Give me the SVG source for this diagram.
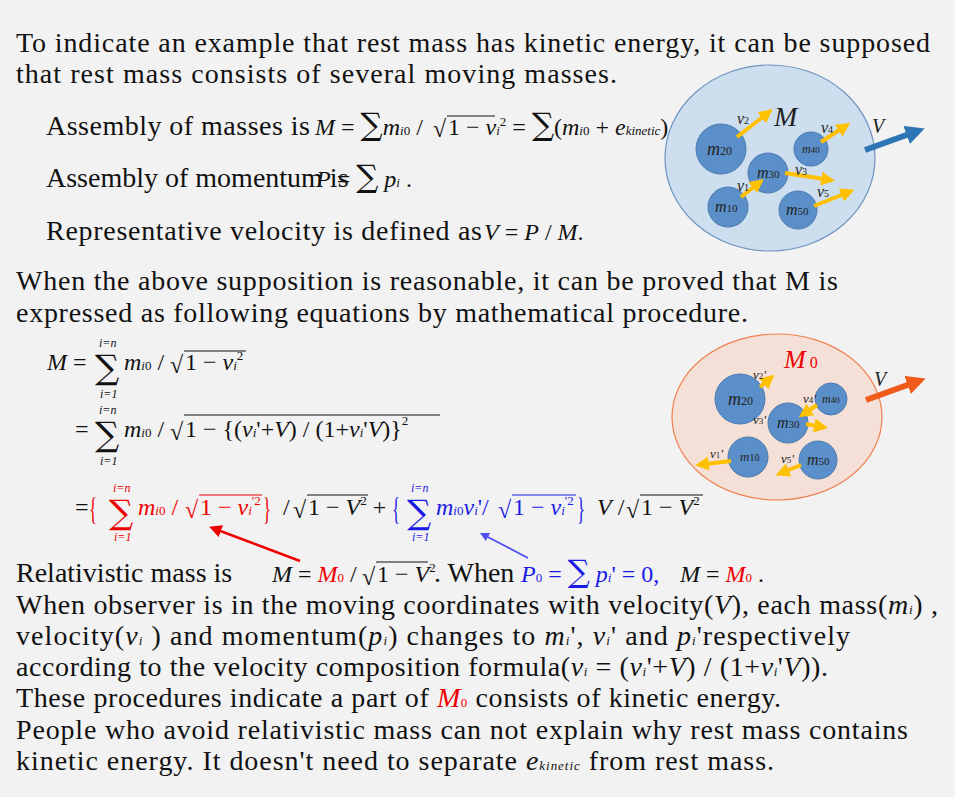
<svg xmlns="http://www.w3.org/2000/svg" width="960" height="802" viewBox="0 0 960 802">
<defs>
<style>
.t{font-family:"Liberation Serif",serif;font-size:28px;fill:#111}
.m{font-family:"Liberation Serif",serif;font-size:24px;fill:#111}
.i{font-style:italic}
.s{font-size:13px}
.sm{font-family:"Liberation Serif",serif;font-size:12px;font-style:italic;fill:#111}
.big{font-family:"DejaVu Serif",serif;font-size:31px;font-style:normal}
.eqs{font-family:"DejaVu Serif",serif;font-size:34px;font-style:normal}
.r{fill:#e00}
.b{fill:#1a1ae6}
.ov{stroke:#111;stroke-width:1.2}
.ball{fill:#5b8fc9;stroke:#4a7ab0;stroke-width:1}
.bl{font-family:"Liberation Serif",serif;font-style:italic;font-size:16px;fill:#222}
.ya{stroke:#ffc000;stroke-width:4;fill:none;marker-end:url(#ya)}
</style>
<marker id="ya" viewBox="0 0 10 10" refX="2" refY="5" markerWidth="3.5" markerHeight="3.5" orient="auto" markerUnits="strokeWidth"><path d="M0,0L10,5L0,10z" fill="#ffc000"/></marker>
<marker id="bb" viewBox="0 0 10 10" refX="3" refY="5" markerWidth="3.2" markerHeight="3.2" orient="auto"><path d="M0,0L10,5L0,10z" fill="#2e75b6"/></marker>
<marker id="ob" viewBox="0 0 10 10" refX="3" refY="5" markerWidth="3.2" markerHeight="3.2" orient="auto"><path d="M0,0L10,5L0,10z" fill="#f05a1a"/></marker>
<marker id="ra" viewBox="0 0 10 10" refX="5" refY="5" markerWidth="5" markerHeight="5" orient="auto"><path d="M0,0L10,5L0,10z" fill="#e00"/></marker>
<marker id="ba" viewBox="0 0 10 10" refX="5" refY="5" markerWidth="5" markerHeight="5" orient="auto"><path d="M0,0L10,5L0,10z" fill="#5050ee"/></marker>
</defs>
<rect x="0" y="0" width="955" height="797" fill="#f2f2f2"/>

<g id="intro">
<text class="t" x="16" y="52" textLength="914">To indicate an example that rest mass has kinetic energy, it can be supposed</text>
<text class="t" x="16" y="83" textLength="601">that rest mass consists of several moving masses.</text>
<text class="t" x="46" y="135" textLength="264">Assembly of masses is</text>
<text class="m" x="315" y="135"><tspan class="i">M</tspan> = <tspan class="big">∑</tspan><tspan class="i">m</tspan><tspan class="s i">i</tspan><tspan class="s">0</tspan> / </text>
<text class="m" x="433" y="137" font-size="26">√</text><line class="ov" x1="447" y1="116" x2="495" y2="116"/>
<text class="m" x="448" y="135">1 − <tspan class="i">v</tspan><tspan class="s i">i</tspan><tspan class="s" dy="-9">2</tspan><tspan dy="9"> = </tspan><tspan class="big">∑</tspan>(<tspan class="i">m</tspan><tspan class="s i">i</tspan><tspan class="s">0</tspan> + <tspan class="i">e</tspan><tspan class="s i">kinetic</tspan>).</text>
<text class="t" x="46" y="187">Assembly of momentum is</text>
<text class="m" x="316" y="187"><tspan class="i">P</tspan> = <tspan class="big">∑</tspan> <tspan class="i">p</tspan><tspan class="s i">i</tspan> .</text>
<text class="t" x="46" y="240" textLength="436">Representative velocity is defined as</text>
<text class="m" x="484" y="240"><tspan class="i">V</tspan> = <tspan class="i">P</tspan> / <tspan class="i">M</tspan>.</text>
<text class="t" x="16" y="290" textLength="822">When the above supposition is reasonable, it can be proved that M is</text>
<text class="t" x="16" y="322" textLength="732">expressed as following equations by mathematical procedure.</text>
</g>

<g id="diagram1">
<ellipse cx="770" cy="158" rx="105" ry="93" fill="#cddeee" stroke="#6f94c0" stroke-width="1.2"/>
<circle class="ball" cx="721" cy="149" r="25"/><circle class="ball" cx="768" cy="173" r="20"/>
<circle class="ball" cx="811" cy="149" r="17"/><circle class="ball" cx="728" cy="207" r="20"/>
<circle class="ball" cx="798" cy="210" r="19"/>
<text class="bl" x="707" y="155" style="font-size:18px">m<tspan font-size="12" font-style="normal">20</tspan></text>
<text class="bl" x="757" y="178">m<tspan font-size="11" font-style="normal">30</tspan></text>
<text class="bl" x="802" y="153" style="font-size:12px">m<tspan font-size="9" font-style="normal">40</tspan></text>
<text class="bl" x="715" y="212">m<tspan font-size="11" font-style="normal">10</tspan></text>
<text class="bl" x="786" y="215">m<tspan font-size="11" font-style="normal">50</tspan></text>
<path class="ya" d="M737,137L764,116"/><path class="ya" d="M821,142L841,129"/><path class="ya" d="M785,173L824,179"/><path class="ya" d="M741,197L755,186"/><path class="ya" d="M814,206L844,194"/>
<text class="bl" x="737" y="124">v<tspan font-size="10" font-style="normal">2</tspan></text>
<text class="bl" x="821" y="133">v<tspan font-size="10" font-style="normal">4</tspan></text>
<text class="bl" x="795" y="175">v<tspan font-size="10" font-style="normal">3</tspan></text>
<text class="bl" x="737" y="191">v<tspan font-size="10" font-style="normal">1</tspan></text>
<text class="bl" x="817" y="197">v<tspan font-size="10" font-style="normal">5</tspan></text>
<text class="bl" x="774" y="126" style="font-size:28px">M</text>
<text class="bl" x="872" y="133" style="font-size:20px">V</text>
<line x1="865" y1="150" x2="912" y2="133" stroke="#2e75b6" stroke-width="6" marker-end="url(#bb)"/>
</g>

<g id="diagram2">
<ellipse cx="777" cy="417" rx="105" ry="83" fill="#f5e0d8" stroke="#f08050" stroke-width="1.2"/>
<circle class="ball" cx="740" cy="399" r="25"/><circle class="ball" cx="788" cy="423" r="20"/>
<circle class="ball" cx="831" cy="399" r="16"/><circle class="ball" cx="748" cy="457" r="20"/>
<circle class="ball" cx="818" cy="460" r="19"/>
<text class="bl" x="728" y="405" style="font-size:18px">m<tspan font-size="12" font-style="normal">20</tspan></text>
<text class="bl" x="777" y="428">m<tspan font-size="11" font-style="normal">30</tspan></text>
<text class="bl" x="822" y="403" style="font-size:12px">m<tspan font-size="9" font-style="normal">40</tspan></text>
<text class="bl" x="740" y="461" style="font-size:13px">m<tspan font-size="10" font-style="normal">10</tspan></text>
<text class="bl" x="807" y="465">m<tspan font-size="11" font-style="normal">50</tspan></text>
<path class="ya" d="M760,387L766,382"/><path class="ya" d="M817,405L808,411"/><path class="ya" d="M806,424L817,426"/><path class="ya" d="M731,461L706,464"/><path class="ya" d="M801,465L786,471"/>
<text class="bl" x="753" y="379" style="font-size:13px">v<tspan font-size="9" font-style="normal">2</tspan>'</text>
<text class="bl" x="803" y="403" style="font-size:13px">v<tspan font-size="9" font-style="normal">4</tspan>'</text>
<text class="bl" x="753" y="424" style="font-size:13px">v<tspan font-size="9" font-style="normal">3</tspan>'</text>
<text class="bl" x="710" y="458" style="font-size:13px">v<tspan font-size="9" font-style="normal">1</tspan>'</text>
<text class="bl" x="781" y="463" style="font-size:13px">v<tspan font-size="9" font-style="normal">5</tspan>'</text>
<text class="bl" x="784" y="368" style="font-size:26px;fill:#e00">M<tspan font-size="16" font-style="normal"> 0</tspan></text>
<text class="bl" x="874" y="386" style="font-size:20px">V</text>
<line x1="866" y1="400" x2="913" y2="383" stroke="#f05a1a" stroke-width="6" marker-end="url(#ob)"/>
</g>

<g id="equations">
<text class="m" x="47" y="370"><tspan class="i">M</tspan>  =</text>
<text class="m eqs" x="95" y="379">∑</text><text class="sm" x="99" y="347">i=n</text><text class="sm" x="100" y="398">i=1</text>
<text class="m" x="124" y="370"><tspan class="i">m</tspan><tspan class="s i">i</tspan><tspan class="s">0</tspan> / </text>
<text class="m" x="170" y="373" font-size="26">√</text><line class="ov" x1="184" y1="351" x2="246" y2="351"/>
<text class="m" x="185" y="370">1 − <tspan class="i">v</tspan><tspan class="s i">i</tspan><tspan class="s" dy="-10">2</tspan></text>

<text class="m" x="75" y="437">=</text>
<text class="m eqs" x="95" y="446">∑</text><text class="sm" x="99" y="414">i=n</text><text class="sm" x="100" y="465">i=1</text>
<text class="m" x="124" y="437"><tspan class="i">m</tspan><tspan class="s i">i</tspan><tspan class="s">0</tspan> / </text>
<text class="m" x="170" y="440" font-size="26">√</text><line class="ov" x1="184" y1="415" x2="440" y2="415"/>
<text class="m" x="185" y="437">1 − {(<tspan class="i">v</tspan><tspan class="s i">i</tspan>'+<tspan class="i">V</tspan>) / (1+<tspan class="i">v</tspan><tspan class="s i">i</tspan>'<tspan class="i">V</tspan>)}<tspan class="s" dy="-12">2</tspan></text>

<text class="m" x="75" y="515">=</text>
<text class="m r" x="89" y="520" font-size="44" transform="translate(89 520) scale(0.7 1.3) translate(-89 -520)">{</text>
<text class="m eqs r" x="109" y="524">∑</text><text class="sm r" x="113" y="492">i=n</text><text class="sm r" x="114" y="541">i=1</text>
<text class="m r" x="138" y="515"><tspan class="i">m</tspan><tspan class="s i">i</tspan><tspan class="s">0</tspan> / </text>
<text class="m r" x="185" y="518" font-size="26">√</text><line x1="199" y1="495" x2="262" y2="495" stroke="#e00" stroke-width="1.2"/>
<text class="m r" x="200" y="515">1 − <tspan class="i">v</tspan><tspan class="s i">i</tspan><tspan class="s" dy="-10">'2</tspan></text>
<text class="m r" x="263" y="520" font-size="44" transform="translate(263 520) scale(0.7 1.3) translate(-263 -520)">}</text>
<text class="m" x="283" y="515">/ </text>
<text class="m" x="293" y="518" font-size="26">√</text><line class="ov" x1="307" y1="495" x2="368" y2="495"/>
<text class="m" x="308" y="515">1 − <tspan class="i">V</tspan><tspan class="s" dy="-10">2</tspan><tspan dy="10">  +</tspan></text>
<text class="m b" x="392" y="520" font-size="44" transform="translate(392 520) scale(0.7 1.3) translate(-392 -520)">{</text>
<text class="m eqs b" x="407" y="524">∑</text><text class="sm b" x="411" y="492">i=n</text><text class="sm b" x="412" y="541">i=1</text>
<text class="m b" x="436" y="515"><tspan class="i">m</tspan><tspan class="s i">i</tspan><tspan class="s">0</tspan><tspan class="i">v</tspan><tspan class="s i">i</tspan>'/ </text>
<text class="m b" x="498" y="518" font-size="26">√</text><line x1="512" y1="495" x2="576" y2="495" stroke="#1a1ae6" stroke-width="1.2"/>
<text class="m b" x="513" y="515">1 − <tspan class="i">v</tspan><tspan class="s i">i</tspan><tspan class="s" dy="-10">'2</tspan></text>
<text class="m b" x="577" y="520" font-size="44" transform="translate(577 520) scale(0.7 1.3) translate(-577 -520)">}</text>
<text class="m" x="597" y="515"><tspan class="i">V</tspan> / </text>
<text class="m" x="626" y="518" font-size="26">√</text><line class="ov" x1="640" y1="495" x2="703" y2="495"/>
<text class="m" x="641" y="515">1 − <tspan class="i">V</tspan><tspan class="s" dy="-10">2</tspan></text>
</g>

<g id="connectors">
<line x1="300" y1="561" x2="215" y2="529" stroke="#e00" stroke-width="2.5" marker-end="url(#ra)"/>
<line x1="528" y1="558" x2="484" y2="535" stroke="#5050ee" stroke-width="1.8" marker-end="url(#ba)"/>
</g>

<g id="conclusion">
<text class="t" x="16" y="582">Relativistic mass is</text>
<text class="m" x="272" y="582"><tspan class="i">M</tspan> = <tspan class="i r">M</tspan><tspan class="s r">0</tspan> / </text>
<text class="m" x="362" y="585" font-size="26">√</text><line class="ov" x1="376" y1="562" x2="428" y2="562"/>
<text class="m" x="377" y="582">1 − <tspan class="i">V</tspan><tspan class="s" dy="-10">2</tspan></text>
<text class="t" x="434" y="582">. When</text>
<text class="m b" x="521" y="582"><tspan class="i">P</tspan><tspan class="s">0</tspan> = <tspan class="big">∑</tspan> <tspan class="i">p</tspan><tspan class="s i">i</tspan>' = 0,</text>
<text class="m" x="680" y="582"><tspan class="i">M</tspan> = <tspan class="i r">M</tspan><tspan class="s r">0</tspan> .</text>
<text class="t" x="16" y="614" textLength="922">When observer is in the moving coordinates with velocity(<tspan class="i">V</tspan>), each mass(<tspan class="i">m</tspan><tspan class="s i">i</tspan>) ,</text>
<text class="t" x="16" y="645" textLength="834">velocity(<tspan class="i">v</tspan><tspan class="s i">i</tspan> ) and momentum(<tspan class="i">p</tspan><tspan class="s i">i</tspan>) changes to <tspan class="i">m</tspan><tspan class="s i">i</tspan>', <tspan class="i">v</tspan><tspan class="s i">i</tspan>' and  <tspan class="i">p</tspan><tspan class="s i">i</tspan>'respectively</text>
<text class="t" x="16" y="676" textLength="812">according to the velocity composition formula(<tspan class="i">v</tspan><tspan class="s i">i</tspan> = (<tspan class="i">v</tspan><tspan class="s i">i</tspan>'+<tspan class="i">V</tspan>) / (1+<tspan class="i">v</tspan><tspan class="s i">i</tspan>'<tspan class="i">V</tspan>)).</text>
<text class="t" x="16" y="707" textLength="765">These procedures  indicate a part of <tspan class="i r">M</tspan><tspan class="s r">0</tspan> consists of kinetic energy.</text>
<text class="t" x="16" y="739" textLength="892">People who avoid relativistic mass can not explain why rest mass contains</text>
<text class="t" x="16" y="770" textLength="758">kinetic energy. It doesn't need to separate <tspan class="i">e</tspan><tspan class="s i">kinetic</tspan> from rest mass.</text>
</g>
</svg>
